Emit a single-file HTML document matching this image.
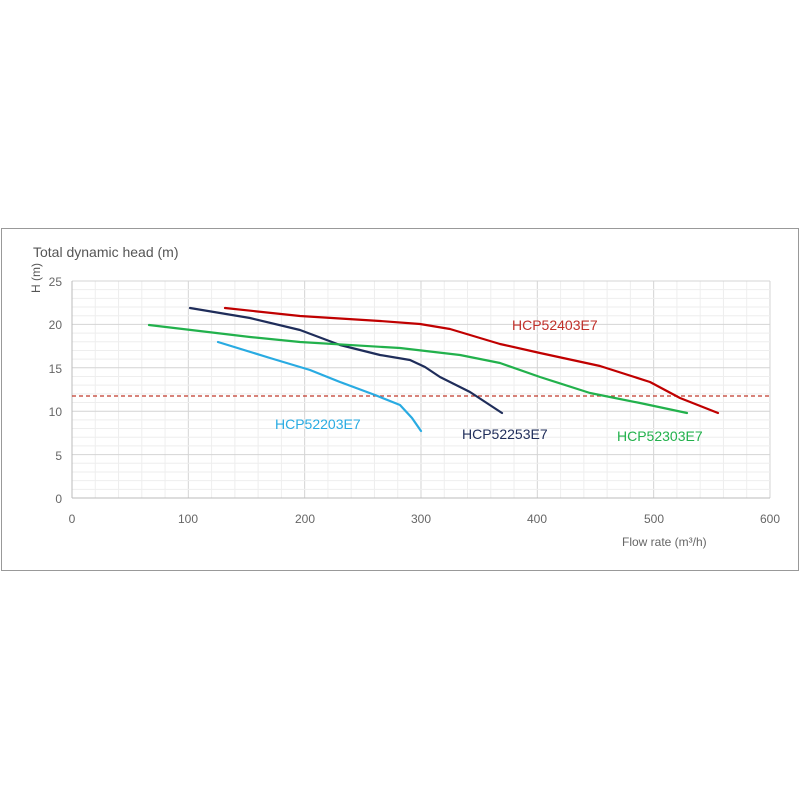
<!DOCTYPE html>
<html><head><meta charset="utf-8"><style>
html,body{margin:0;padding:0;background:#fff;width:800px;height:800px;overflow:hidden}
text{font-family:"Liberation Sans",sans-serif}
</style></head><body>
<svg width="800" height="800" xmlns="http://www.w3.org/2000/svg">
<rect x="1.5" y="228.5" width="797" height="342" fill="#fff" stroke="#999" stroke-width="1"/>
<g stroke="#ececec" stroke-width="1">
<!-- minor vertical every 20 units -->
<g id="mv"></g>
</g>
<g id="grid"></g>
<text x="33" y="257" font-size="14" fill="#555">Total dynamic head (m)</text>
<text transform="translate(40,293) rotate(-90)" font-size="12" fill="#555">H (m)</text>
<g font-size="12" fill="#666" text-anchor="end">
<text x="62" y="286">25</text><text x="62" y="329">20</text><text x="62" y="373">15</text>
<text x="62" y="416">10</text><text x="62" y="460">5</text><text x="62" y="503">0</text>
</g>
<g font-size="12" fill="#666" text-anchor="middle">
<text x="72" y="523">0</text><text x="188" y="523">100</text><text x="305" y="523">200</text>
<text x="421" y="523">300</text><text x="537" y="523">400</text><text x="654" y="523">500</text><text x="770" y="523">600</text>
</g>
<text x="622" y="546" font-size="12" fill="#666">Flow rate (m³/h)</text>
<line x1="72" y1="396" x2="770" y2="396" stroke="#c0392b" stroke-width="1.3" stroke-dasharray="4,3"/>
<g fill="none" stroke-width="2.2" stroke-linejoin="round" stroke-linecap="round">
<polyline stroke="#c00000" points="225,308 300,316 380,321 420,324 450,329 470,335 500,344 540,353 600,366 650,382 680,398 718,413"/>
<polyline stroke="#1f2d5a" points="190,308 250,318 300,330 340,345 380,355 410,360 425,367 440,377 470,392 502,413"/>
<polyline stroke="#22b14c" points="149,325 250,337 300,342 400,348 460,355 500,363 540,377 590,393 640,403 687,413"/>
<polyline stroke="#29abe2" points="218,342 270,358 310,370 340,382 375,395 400,405 412,418 421,431"/>
</g>
<g font-size="14">
<text x="512" y="330" fill="#c0302a">HCP52403E7</text>
<text x="462" y="439" fill="#1f2d5a">HCP52253E7</text>
<text x="617" y="441" fill="#22b14c">HCP52303E7</text>
<text x="275" y="429" fill="#29abe2">HCP52203E7</text>
</g>
<script>
var ns="http://www.w3.org/2000/svg",g=document.getElementById("grid");
function L(x1,y1,x2,y2,c){var l=document.createElementNS(ns,"line");l.setAttribute("x1",x1);l.setAttribute("y1",y1);l.setAttribute("x2",x2);l.setAttribute("y2",y2);l.setAttribute("stroke",c);l.setAttribute("stroke-width",1);g.appendChild(l);}
for(var q=0;q<=600;q+=20){var x=72+q*1.1633;L(x,281,x,498,q%100==0?"#d4d4d4":"#eeeeee");}
for(var h=0;h<=25;h++){var y=498-h*8.68;L(72,y,770,y,h%5==0?"#d4d4d4":"#eeeeee");}
L(72,281,72,498,"#bbb");L(72,498,770,498,"#bbb");
var s=document.querySelector("svg");var gg=g;s.insertBefore(gg,s.children[2]);
</script>
</svg>
</body></html>
